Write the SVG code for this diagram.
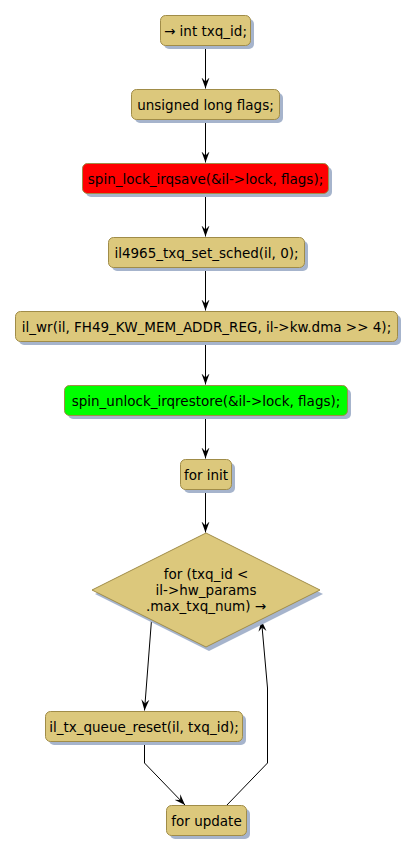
<svg xmlns="http://www.w3.org/2000/svg" width="415" height="854" viewBox="0 0 415 854">
<defs>
<style>
.n{fill:#DCC87C;stroke:#A08C48;stroke-width:1}
.sh{fill:#A6B4CC}
.t{font-family:"DejaVu Sans",sans-serif;font-size:13.5px;fill:#000;text-anchor:middle}
.c{fill:none;stroke:#000;stroke-width:1}
</style>
<marker id="ah" viewBox="0 0 12 10" refX="11" refY="5" markerWidth="12" markerHeight="10" markerUnits="userSpaceOnUse" orient="auto">
<path d="M0,1 L11,5 L0,9 L4,5 Z" fill="#000"/>
</marker>
</defs>
<rect width="415" height="854" fill="#fff"/>
<g id="connectors">
<path class="c" d="M205.5,45.5 V88.5" marker-end="url(#ah)"/>
<path class="c" d="M205.5,119.5 V162.5" marker-end="url(#ah)"/>
<path class="c" d="M205.5,193.5 V236.5" marker-end="url(#ah)"/>
<path class="c" d="M205.5,267.5 V310.5" marker-end="url(#ah)"/>
<path class="c" d="M205.5,341.5 V384.5" marker-end="url(#ah)"/>
<path class="c" d="M205.5,415.5 V458.5" marker-end="url(#ah)"/>
<path class="c" d="M205.5,489.5 V532.5" marker-end="url(#ah)"/>
<path class="c" d="M151.5,620 L144.5,710.5" marker-end="url(#ah)"/>
<path class="c" d="M144.5,741.5 V763 L185,805" marker-end="url(#ah)"/>
<path class="c" d="M226.5,805.5 L267.5,763 V688 L261.5,620.5" marker-end="url(#ah)"/>
</g>
<g id="n1">
<rect class="sh" x="164" y="19" width="90" height="30" rx="5"/>
<rect class="n" x="160.5" y="15.5" width="90" height="30" rx="5"/>
<text class="t" x="205.5" y="35.5">→ int txq_id;</text>
</g>
<g id="n2">
<rect class="sh" x="135" y="93" width="148" height="30" rx="5"/>
<rect class="n" x="131.5" y="89.5" width="148" height="30" rx="5"/>
<text class="t" x="205.5" y="109.5">unsigned long flags;</text>
</g>
<g id="n3">
<rect class="sh" x="86" y="167" width="246" height="30" rx="5"/>
<rect class="n" x="82.5" y="163.5" width="246" height="30" rx="5" style="fill:#FF0000"/>
<text class="t" x="205.5" y="183.5">spin_lock_irqsave(&amp;il-&gt;lock, flags);</text>
</g>
<g id="n4">
<rect class="sh" x="112" y="241" width="196" height="30" rx="5"/>
<rect class="n" x="108.5" y="237.5" width="196" height="30" rx="5"/>
<text class="t" x="206.5" y="257.5">il4965_txq_set_sched(il, 0);</text>
</g>
<g id="n5">
<rect class="sh" x="19" y="315" width="382" height="30" rx="5"/>
<rect class="n" x="15.5" y="311.5" width="382" height="30" rx="5"/>
<text class="t" x="206.5" y="331.5">il_wr(il, FH49_KW_MEM_ADDR_REG, il-&gt;kw.dma &gt;&gt; 4);</text>
</g>
<g id="n6">
<rect class="sh" x="68" y="389" width="283" height="30" rx="5"/>
<rect class="n" x="64.5" y="385.5" width="283" height="30" rx="5" style="fill:#00FF00"/>
<text class="t" x="206" y="405.5">spin_unlock_irqrestore(&amp;il-&gt;lock, flags);</text>
</g>
<g id="n7">
<rect class="sh" x="184" y="463" width="51" height="30" rx="5"/>
<rect class="n" x="180.5" y="459.5" width="51" height="30" rx="5"/>
<text class="t" x="206" y="479.5">for init</text>
</g>
<g id="n8">
<polygon class="sh" points="209,537 323,594 209,651 95,594"/>
<polygon class="n" points="206,533 320,590 206,647 92,590"/>
<text class="t" x="206" y="579">for (txq_id &lt;</text>
<text class="t" x="206" y="595">il-&gt;hw_params</text>
<text class="t" x="206" y="611">.max_txq_num) →</text>
</g>
<g id="n9">
<rect class="sh" x="49" y="715" width="197" height="30" rx="5"/>
<rect class="n" x="45.5" y="711.5" width="197" height="30" rx="5"/>
<text class="t" x="144" y="731.5">il_tx_queue_reset(il, txq_id);</text>
</g>
<g id="n10">
<rect class="sh" x="170" y="809" width="80" height="30" rx="5"/>
<rect class="n" x="166.5" y="805.5" width="80" height="30" rx="5"/>
<text class="t" x="206.5" y="825.5">for update</text>
</g>
</svg>
